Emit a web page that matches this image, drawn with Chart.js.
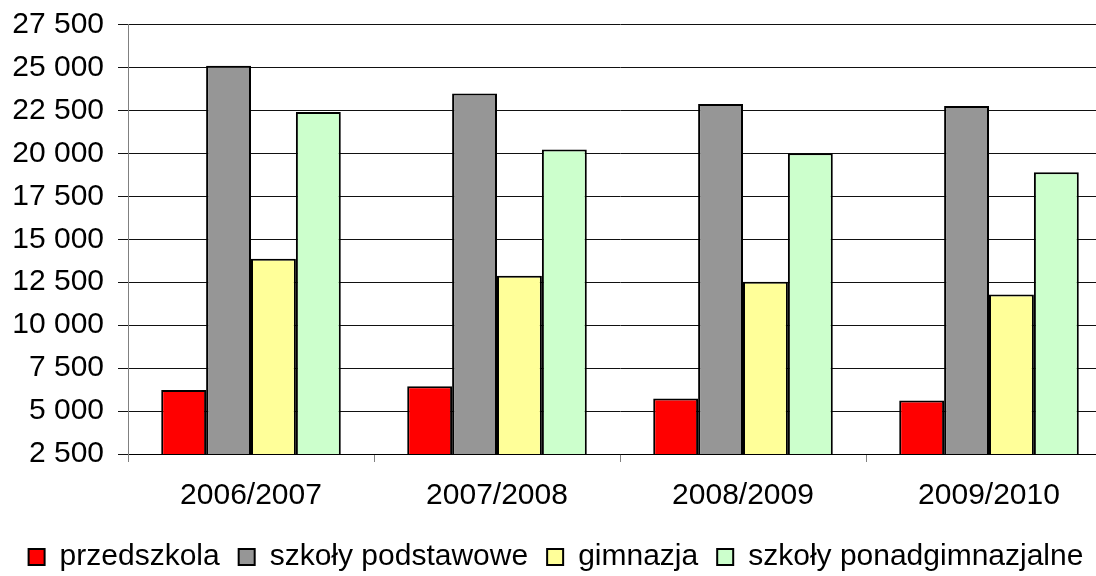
<!DOCTYPE html>
<html>
<head>
<meta charset="utf-8">
<script src="https://cdn.jsdelivr.net/npm/chart.js@4/dist/chart.umd.min.js"></script>
<style>
html,body{margin:0;padding:0;background:#fff;overflow:hidden;width:1096px;height:576px;}
#wrap{position:absolute;left:0;top:0;width:1112px;height:582px;}
</style>
</head>
<body>
<div id="wrap"><canvas id="c" width="1112" height="582"></canvas></div>
<script>
const categories = ['2006/2007', '2007/2008', '2008/2009', '2009/2010'];
const przedszkola = [6220, 6440, 5730, 5610];
const szkolyPodstawowe = [25100, 23490, 22870, 22760];
const gimnazja = [13870, 12880, 12520, 11780];
const szkolyPonadgimnazjalne = [22400, 20230, 20000, 18900];
const yMin = 2500, yMax = 27500, yStep = 2500;

const FONT = "'Liberation Sans', Arial, sans-serif";
function ds(label, data, color){
  return {label, data, backgroundColor: color, borderColor: '#000', borderWidth: 2,
    borderSkipped: false, barPercentage: 1.0, categoryPercentage: 0.73};
}
function fmt(v){
  return String(v).replace(/\B(?=(\d{3})+(?!\d))/g, ' ');
}
new Chart(document.getElementById('c'), {
  type: 'bar',
  data: {
    labels: categories,
    datasets: [
      ds('przedszkola', przedszkola, '#FF0000'),
      ds('szkoły podstawowe', szkolyPodstawowe, '#969696'),
      ds('gimnazja', gimnazja, '#FFFF99'),
      ds('szkoły ponadgimnazjalne', szkolyPonadgimnazjalne, '#CCFFCC')
    ]
  },
  options: {
    responsive: false,
    animation: false,
    layout: {padding: {top: 24.5, left: 0, right: 0, bottom: 0}},
    plugins: {
      tooltip: {enabled: false},
      legend: {
        position: 'bottom',
        labels: {
          font: {family: FONT, size: 30},
          color: '#000',
          boxWidth: 16,
          boxHeight: 16,
          padding: 19
        }
      }
    },
    scales: {
      x: {
        grid: {display: true, drawOnChartArea: false, drawTicks: true, tickLength: 8, color: '#808080', offset: true},
        border: {display: true, color: '#000', width: 1},
        ticks: {font: {family: FONT, size: 30}, color: '#000', padding: 16, maxRotation: 0},
        afterFit: s => { s.height = 69; s.paddingLeft = 0; s.paddingRight = 0; }
      },
      y: {
        min: yMin, max: yMax,
        grid: {color: '#111', lineWidth: 1, drawTicks: true, tickLength: 10},
        border: {display: true, color: '#808080', width: 1},
        ticks: {stepSize: yStep, font: {family: FONT, size: 30}, color: '#000', padding: 14,
          callback: v => fmt(v)},
        afterFit: s => { s.width = 128; s.paddingTop = 0; s.paddingBottom = 0; }
      }
    }
  }
});
</script>
</body>
</html>
